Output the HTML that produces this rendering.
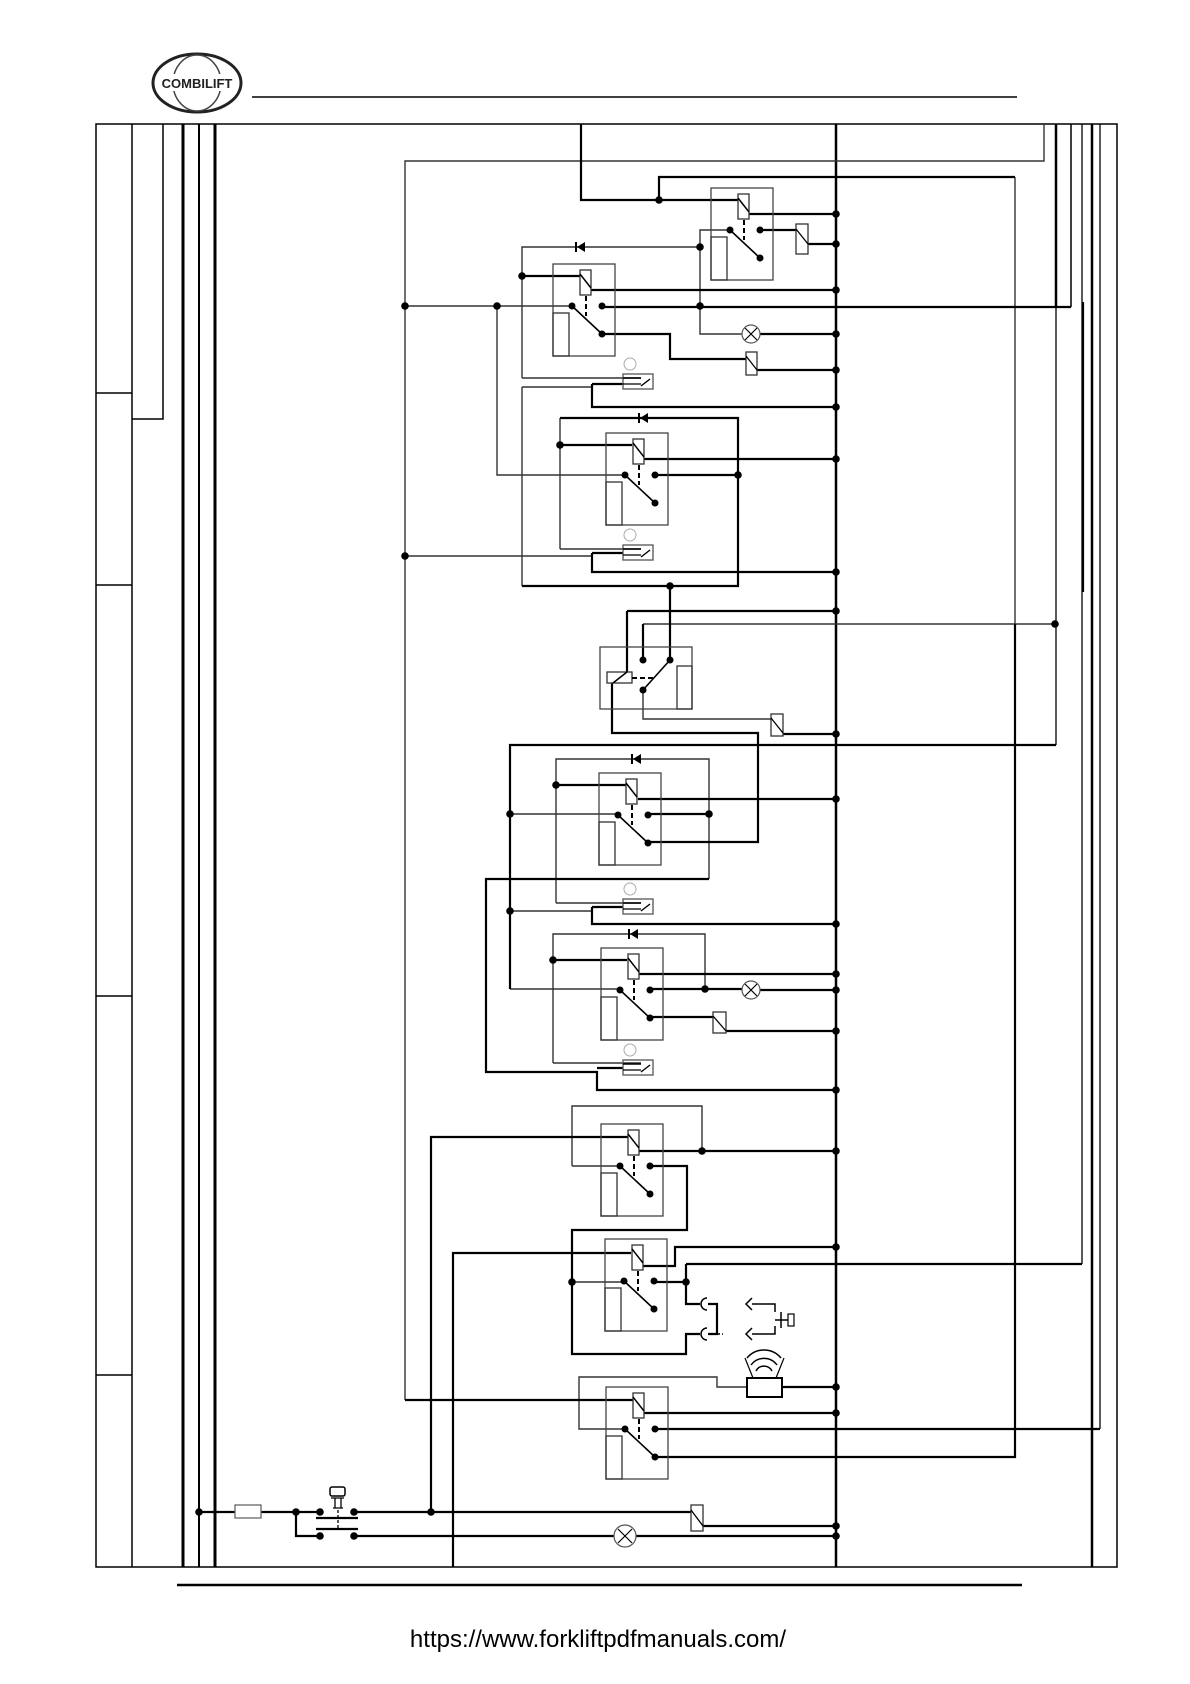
<!DOCTYPE html>
<html><head><meta charset="utf-8"><style>
html,body{margin:0;padding:0;background:#fff;}
svg{display:block}
</style></head><body>
<svg width="1190" height="1684" viewBox="0 0 1190 1684" xmlns="http://www.w3.org/2000/svg">
<defs>
<g id="relay">
 <rect x="0" y="0" width="62" height="92" fill="none" stroke="#444" stroke-width="1.3"/>
 <rect x="27" y="6" width="11" height="25" fill="#fff" stroke="#333" stroke-width="1.3"/>
 <line x1="27" y1="10" x2="38" y2="24" stroke="#000" stroke-width="1.5"/>
 <rect x="0" y="49" width="16" height="43" fill="none" stroke="#333" stroke-width="1.3"/>
 <line x1="33" y1="32" x2="33" y2="52" stroke="#000" stroke-width="2" stroke-dasharray="5,3"/>
 <line x1="19" y1="42" x2="49" y2="70" stroke="#000" stroke-width="1.6"/>
 <circle cx="19" cy="42" r="3.5"/><circle cx="49" cy="42" r="3.5"/><circle cx="49" cy="70" r="3.5"/>
</g>
<g id="sw">
 <circle cx="7" cy="-10" r="6" fill="none" stroke="#aaa" stroke-width="1"/>
 <rect x="0" y="0" width="30" height="15" fill="none" stroke="#555" stroke-width="1.3"/>
 <line x1="0" y1="4" x2="18" y2="4" stroke="#000" stroke-width="1.6"/>
 <line x1="0" y1="10" x2="18" y2="10" stroke="#000" stroke-width="1.3"/>
 <line x1="18" y1="12" x2="27" y2="5" stroke="#000" stroke-width="1.4"/>
</g>
<g id="diode"><polygon points="-4,-5 -4,5 4,0" transform="scale(-1,1)"/><line x1="-5" y1="-5" x2="-5" y2="5" stroke="#000" stroke-width="2"/></g>
</defs>

<!-- header -->
<ellipse cx="197" cy="83" rx="44" ry="29" fill="none" stroke="#222" stroke-width="3"/>
<ellipse cx="197" cy="83" rx="24" ry="28" fill="none" stroke="#444" stroke-width="1.5"/>
<rect x="160" y="74" width="74" height="17" fill="#fff"/>
<text x="197" y="88" font-family="Liberation Sans, sans-serif" font-size="13" font-weight="bold" text-anchor="middle" fill="#222">COMBILIFT</text>
<line x1="252" y1="97" x2="1017" y2="97" stroke="#000" stroke-width="1.5"/>

<!-- frame -->
<rect x="96" y="124" width="1021" height="1443" fill="none" stroke="#000" stroke-width="1.5"/>
<g stroke="#000" fill="none" stroke-width="1.5">
<line x1="132" y1="124" x2="132" y2="1567"/>
<line x1="96" y1="393" x2="132" y2="393"/>
<line x1="96" y1="585" x2="132" y2="585"/>
<line x1="96" y1="996" x2="132" y2="996"/>
<line x1="96" y1="1375" x2="132" y2="1375"/>
<path d="M163,124 V419 H132"/>
<line x1="183" y1="124" x2="183" y2="1567" stroke-width="3"/>
<line x1="199" y1="124" x2="199" y2="1567" stroke-width="2"/>
<line x1="215" y1="124" x2="215" y2="1567" stroke-width="3"/>
</g>
<line x1="177" y1="1585" x2="1022" y2="1585" stroke="#000" stroke-width="2.5"/>
<text x="598" y="1647" font-family="Liberation Sans, sans-serif" font-size="24" text-anchor="middle" fill="#000">https://www.forkliftpdfmanuals.com/</text>

<!-- bus & right verticals -->
<g fill="none" stroke="#000">
<line x1="836" y1="124" x2="836" y2="1567" stroke-width="2.5"/>
<line x1="1092" y1="124" x2="1092" y2="1567" stroke-width="2.5"/>
<path d="M1100,124 V1429" stroke-width="1.3"/>
<path d="M1082,124 V1264" stroke-width="1.3"/>
<path d="M1083,302 V592" stroke-width="2.2"/>
<path d="M1056,124 V307" stroke-width="2.5"/>
<path d="M1056,307 V745" stroke-width="1.3"/>
<path d="M1071,124 V307" stroke-width="1.5"/>
</g>

<!-- thin wires -->
<g fill="none" stroke="#333" stroke-width="1.4">
<path d="M405,1400 V161 H1044 V124"/>
<path d="M729,230 H700 V334 H742"/>
<path d="M522,378 V247 H700"/>
<path d="M405,306 H572"/>
<path d="M497,306 V475 H625"/>
<path d="M522,378 H641"/>
<path d="M522,387 V586"/>
<path d="M522,387 H592"/>
<path d="M560,549 V418"/>
<path d="M560,549 H641"/>
<path d="M405,556 H592"/>
<path d="M643,624 H1055"/>
<path d="M643,690 V719 H771"/>
<path d="M556,903 V759 H709 V879"/>
<path d="M510,814 H618"/>
<path d="M556,903 H641"/>
<path d="M510,911 H592"/>
<path d="M553,1063 V934 H705 V989"/>
<path d="M510,989 H619"/>
<path d="M553,1063 H641"/>
<path d="M572,1166 V1106 H702 V1151"/>
<path d="M572,1166 H620"/>
<path d="M572,1282 H623"/>
<path d="M747,1387 H717 V1377 H579 V1429 H625"/>
<path d="M1015,177 V624"/>
</g>

<!-- thick wires -->
<g fill="none" stroke="#000" stroke-width="2.2">
<path d="M581,124 V200 H738"/>
<path d="M659,200 V177 H1015"/>
<path d="M1015,624 V1457 H655"/>
<path d="M749,214 H836"/>
<path d="M760,230 H796"/>
<path d="M808,244 H836"/>
<path d="M760,334 H836"/>
<path d="M522,276 H580"/>
<path d="M591,290 H836"/>
<path d="M602,307 H1071"/>
<path d="M602,334 H670 V359 H746"/>
<path d="M757,370 H836"/>
<path d="M592,384 H623"/>
<path d="M592,384 V407 H836"/>
<path d="M522,586 H738 V418 H560"/>
<path d="M560,445 H632"/>
<path d="M644,459 H836"/>
<path d="M655,475 H738"/>
<path d="M592,553 H623"/>
<path d="M592,553 V572 H836"/>
<path d="M670,586 V660"/>
<path d="M627,611 H836"/>
<path d="M627,611 V672"/>
<path d="M643,624 V660"/>
<path d="M612,683 V733 H758 V842 H649"/>
<path d="M783,734 H836"/>
<path d="M510,989 V745 H1056"/>
<path d="M709,879 H486 V1072 H597 V1090 H836"/>
<path d="M597,1068 H623"/>
<path d="M556,785 H626"/>
<path d="M638,799 H836"/>
<path d="M649,814 H709"/>
<path d="M592,907 H623"/>
<path d="M592,907 V924 H836"/>
<path d="M553,960 H627"/>
<path d="M639,974 H836"/>
<path d="M650,989 H742"/>
<path d="M760,990 H836"/>
<path d="M650,1017 H713"/>
<path d="M726,1031 H836"/>
<path d="M639,1151 H836"/>
<path d="M431,1512 V1137 H628"/>
<path d="M650,1166 H687 V1230 H572 V1354 H686 V1334 H700"/>
<path d="M453,1567 V1253 H631"/>
<path d="M642,1266 H675 V1247 H836"/>
<path d="M653,1282 H686"/>
<path d="M686,1264 H1082"/>
<path d="M686,1264 V1304 H700"/>
<path d="M708,1304 H717 V1334 H708"/>
<path d="M782,1387 H836"/>
<path d="M405,1400 H633"/>
<path d="M644,1413 H836"/>
<path d="M655,1429 H1100"/>
<path d="M199,1512 H235"/>
<path d="M261,1512 H320"/>
<path d="M354,1512 H691"/>
<path d="M703,1526 H836"/>
<path d="M296,1512 V1536 H320"/>
<path d="M354,1536 H614"/>
<path d="M636,1536 H836"/>
<path d="M316,1518 H358"/>
<path d="M316,1529 H358"/>
</g>

<!-- relays -->
<use href="#relay" x="711" y="188"/>
<use href="#relay" x="553" y="264"/>
<use href="#relay" x="606" y="433"/>
<use href="#relay" x="599" y="773"/>
<use href="#relay" x="601" y="948"/>
<use href="#relay" x="601" y="1124"/>
<use href="#relay" x="605" y="1239"/>
<use href="#relay" x="606" y="1387"/>

<!-- horizontal relay R4 -->
<g>
<rect x="600" y="647" width="92" height="62" fill="none" stroke="#444" stroke-width="1.3"/>
<rect x="607" y="672" width="25" height="11" fill="#fff" stroke="#333" stroke-width="1.3"/>
<line x1="613" y1="683" x2="627" y2="672" stroke="#000" stroke-width="1.5"/>
<rect x="677" y="666" width="15" height="43" fill="none" stroke="#333" stroke-width="1.3"/>
<line x1="632" y1="678" x2="655" y2="678" stroke="#000" stroke-width="2" stroke-dasharray="5,3"/>
<line x1="643" y1="690" x2="670" y2="660" stroke="#000" stroke-width="1.6"/>
<circle cx="643" cy="660" r="3.5"/><circle cx="670" cy="660" r="3.5"/><circle cx="643" cy="690" r="3.5"/>
</g>

<!-- switches -->
<use href="#sw" x="623" y="374"/>
<use href="#sw" x="623" y="545"/>
<use href="#sw" x="623" y="899"/>
<use href="#sw" x="623" y="1060"/>

<!-- diodes -->
<use href="#diode" x="581" y="247"/>
<use href="#diode" x="644" y="418"/>
<use href="#diode" x="637" y="759"/>
<use href="#diode" x="634" y="934"/>

<!-- resistive rects -->
<g fill="#fff" stroke="#333" stroke-width="1.3">
<rect x="796" y="224" width="12" height="30"/><line x1="796" y1="229" x2="808" y2="244" stroke="#000"/>
<rect x="746" y="352" width="11" height="23"/><line x1="746" y1="356" x2="757" y2="370" stroke="#000"/>
<rect x="771" y="714" width="12" height="22"/><line x1="771" y1="718" x2="783" y2="733" stroke="#000"/>
<rect x="713" y="1012" width="13" height="21"/><line x1="713" y1="1016" x2="726" y2="1031" stroke="#000"/>
<rect x="691" y="1505" width="12" height="26"/><line x1="691" y1="1510" x2="703" y2="1526" stroke="#000"/>
<rect x="235" y="1505" width="26" height="13" stroke="#666"/>
</g>

<!-- lamps -->
<g fill="#fff" stroke="#555" stroke-width="1.2">
<circle cx="751" cy="334" r="9"/><path d="M745,328 L757,340 M757,328 L745,340" stroke="#000"/>
<circle cx="751" cy="990" r="9"/><path d="M745,984 L757,996 M757,984 L745,996" stroke="#000"/>
<circle cx="625" cy="1536" r="11"/><path d="M618,1529 L632,1543 M632,1529 L618,1543" stroke="#000"/>
</g>

<!-- connectors & horn button -->
<g fill="none" stroke="#000" stroke-width="1.5">
<path d="M707,1298 A6,6 0 0 0 707,1310"/>
<path d="M707,1328 A6,6 0 0 0 707,1340"/>
<path d="M717,1334 H723" stroke-dasharray="3,2"/>
<path d="M752,1298 L746,1304 L752,1310"/>
<path d="M752,1328 L746,1334 L752,1340"/>
<path d="M752,1304 H775 V1312"/>
<path d="M752,1334 H775 V1326"/>
<path d="M781,1312 V1328"/>
<path d="M775,1320 H788"/>
<rect x="788" y="1314" width="6" height="12" stroke-width="1.2"/>
<!-- horn -->
<rect x="747" y="1378" width="35" height="19" stroke-width="2"/>
<path d="M753,1378 L745,1358 M776,1378 L784,1358" stroke-width="1.2"/>
<path d="M756,1371 A9,9 0 0 1 772,1371" stroke-width="1.5"/>
<path d="M751,1365 A16,16 0 0 1 777,1365" stroke-width="1.5"/>
<path d="M747,1358 A22,22 0 0 1 781,1358" stroke-width="1.5"/>
<!-- key switch -->
<rect x="330" y="1487" width="15" height="9" rx="2" stroke-width="1.5"/>
<path d="M331,1498 H344 M335,1498 V1508 M341,1498 V1508 M333,1508 H343" stroke-width="1.3"/>
<path d="M338,1510 V1528" stroke-dasharray="3,2" stroke-width="1.3"/>
</g>

<!-- dots -->
<g fill="#000">
<circle cx="836" cy="214" r="3.8"/><circle cx="836" cy="244" r="3.8"/><circle cx="836" cy="290" r="3.8"/>
<circle cx="836" cy="334" r="3.8"/><circle cx="836" cy="370" r="3.8"/><circle cx="836" cy="407" r="3.8"/>
<circle cx="836" cy="459" r="3.8"/><circle cx="836" cy="572" r="3.8"/><circle cx="836" cy="611" r="3.8"/>
<circle cx="836" cy="734" r="3.8"/><circle cx="836" cy="799" r="3.8"/><circle cx="836" cy="924" r="3.8"/>
<circle cx="836" cy="974" r="3.8"/><circle cx="836" cy="990" r="3.8"/><circle cx="836" cy="1031" r="3.8"/>
<circle cx="836" cy="1090" r="3.8"/><circle cx="836" cy="1151" r="3.8"/><circle cx="836" cy="1247" r="3.8"/>
<circle cx="836" cy="1387" r="3.8"/><circle cx="836" cy="1413" r="3.8"/><circle cx="836" cy="1526" r="3.8"/>
<circle cx="836" cy="1536" r="3.8"/>
<circle cx="659" cy="200" r="3.8"/><circle cx="700" cy="247" r="3.8"/><circle cx="700" cy="306" r="3.8"/>
<circle cx="522" cy="276" r="3.8"/><circle cx="405" cy="306" r="3.8"/><circle cx="497" cy="306" r="3.8"/>
<circle cx="560" cy="445" r="3.8"/><circle cx="738" cy="475" r="3.8"/><circle cx="405" cy="556" r="3.8"/>
<circle cx="670" cy="586" r="3.8"/><circle cx="556" cy="785" r="3.8"/><circle cx="510" cy="814" r="3.8"/>
<circle cx="709" cy="814" r="3.8"/><circle cx="510" cy="911" r="3.8"/><circle cx="553" cy="960" r="3.8"/>
<circle cx="705" cy="989" r="3.8"/><circle cx="702" cy="1151" r="3.8"/><circle cx="572" cy="1282" r="3.8"/>
<circle cx="686" cy="1282" r="3.8"/><circle cx="1055" cy="624" r="3.8"/>
<circle cx="199" cy="1512" r="3.8"/><circle cx="296" cy="1512" r="3.8"/><circle cx="320" cy="1512" r="3.8"/>
<circle cx="354" cy="1512" r="3.8"/><circle cx="431" cy="1512" r="3.8"/><circle cx="320" cy="1536" r="3.8"/>
<circle cx="354" cy="1536" r="3.8"/>
</g>
</svg>
</body></html>
